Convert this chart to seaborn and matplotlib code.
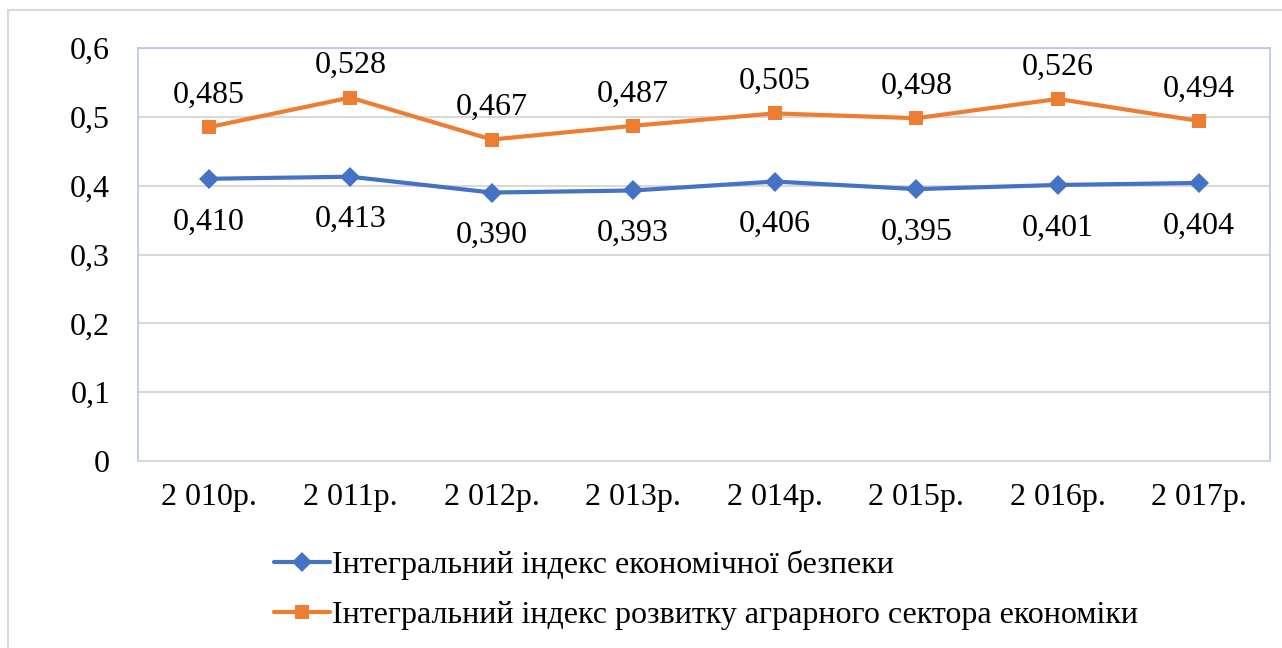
import matplotlib
matplotlib.use('Agg')
import matplotlib.pyplot as plt
import matplotlib.patches as mpatches
import pandas as pd
import seaborn as sns

# Data
years = ['2 010р.', '2 011р.', '2 012р.', '2 013р.', '2 014р.', '2 015р.', '2 016р.', '2 017р.']
security_index = [0.410, 0.413, 0.390, 0.393, 0.406, 0.395, 0.401, 0.404]
agro_index = [0.485, 0.528, 0.467, 0.487, 0.505, 0.498, 0.526, 0.494]
series_names = ['Інтегральний індекс економічної безпеки',
                'Інтегральний індекс розвитку аграрного сектора економіки']
y_ticks = [0, 0.1, 0.2, 0.3, 0.4, 0.5, 0.6]

BLUE = '#4472C4'
ORANGE = '#ED7D31'
FS = 23

sns.set_style("white")
plt.rcParams['font.family'] = ['Liberation Serif', 'DejaVu Serif']
plt.rcParams['text.color'] = 'black'
plt.rcParams['xtick.color'] = 'black'
plt.rcParams['ytick.color'] = 'black'

df = pd.DataFrame({
    'year': years * 2,
    'value': security_index + agro_index,
    'series': [series_names[0]] * len(years) + [series_names[1]] * len(years),
})

fig = plt.figure(figsize=(12.82, 6.48), dpi=100)
ax = fig.add_axes([138 / 1282, 1 - 461 / 648, (1270 - 138) / 1282, (461 - 48) / 648])

# outer chart border
fig.patches.append(mpatches.Rectangle((8 / 1282, -0.05), 1.1, 1 - 10 / 648 + 0.05,
                                      transform=fig.transFigure, fill=False,
                                      edgecolor='#D9D9D9', linewidth=1.5))

sns.lineplot(data=df, x='year', y='value', hue='series', style='series',
             palette={series_names[0]: BLUE, series_names[1]: ORANGE},
             markers={series_names[0]: 'D', series_names[1]: 's'},
             dashes=False, linewidth=3.0, markersize=10.5, markeredgewidth=0,
             legend=False, ax=ax, zorder=3)

for i, v in enumerate(security_index):
    ax.annotate(f'{v:.3f}'.replace('.', ','), (i, v), xytext=(0, -31),
                textcoords='offset points', ha='center', va='center', fontsize=FS)
for i, v in enumerate(agro_index):
    ax.annotate(f'{v:.3f}'.replace('.', ','), (i, v), xytext=(0, 23),
                textcoords='offset points', ha='center', va='center', fontsize=FS)

ax.set_xlim(-0.5, len(years) - 0.5)
ax.set_ylim(0, 0.6)
ax.set_yticks(y_ticks)
ax.set_yticklabels([('0' if t == 0 else f'{t:.1f}'.replace('.', ',')) for t in y_ticks])
ax.tick_params(axis='y', length=0, pad=20, labelsize=FS)
ax.tick_params(axis='x', length=0, pad=16, labelsize=FS)
ax.set_xlabel('')
ax.set_ylabel('')
ax.grid(axis='y', color='#D9D9D9', linewidth=1.5)
ax.grid(axis='x', visible=False)
ax.set_axisbelow(True)
for side in ['top', 'left', 'right']:
    ax.spines[side].set_color('#B4C7E7')
    ax.spines[side].set_linewidth(1.2)
ax.spines['bottom'].set_color('#D9D9D9')
ax.spines['bottom'].set_linewidth(1.5)

handles = [
    plt.Line2D([], [], color=BLUE, marker='D', linewidth=3.0, markersize=10.5, markeredgewidth=0),
    plt.Line2D([], [], color=ORANGE, marker='s', linewidth=3.0, markersize=10.5, markeredgewidth=0),
]
fig.legend(handles, series_names, loc='upper left', bbox_to_anchor=(274 / 1282, 1 - 550 / 648),
           frameon=False, fontsize=FS, handlelength=1.75, handletextpad=0.08,
           labelspacing=0.66, borderaxespad=0, borderpad=0)

plt.savefig('out.png', dpi=100)
plt.close()
